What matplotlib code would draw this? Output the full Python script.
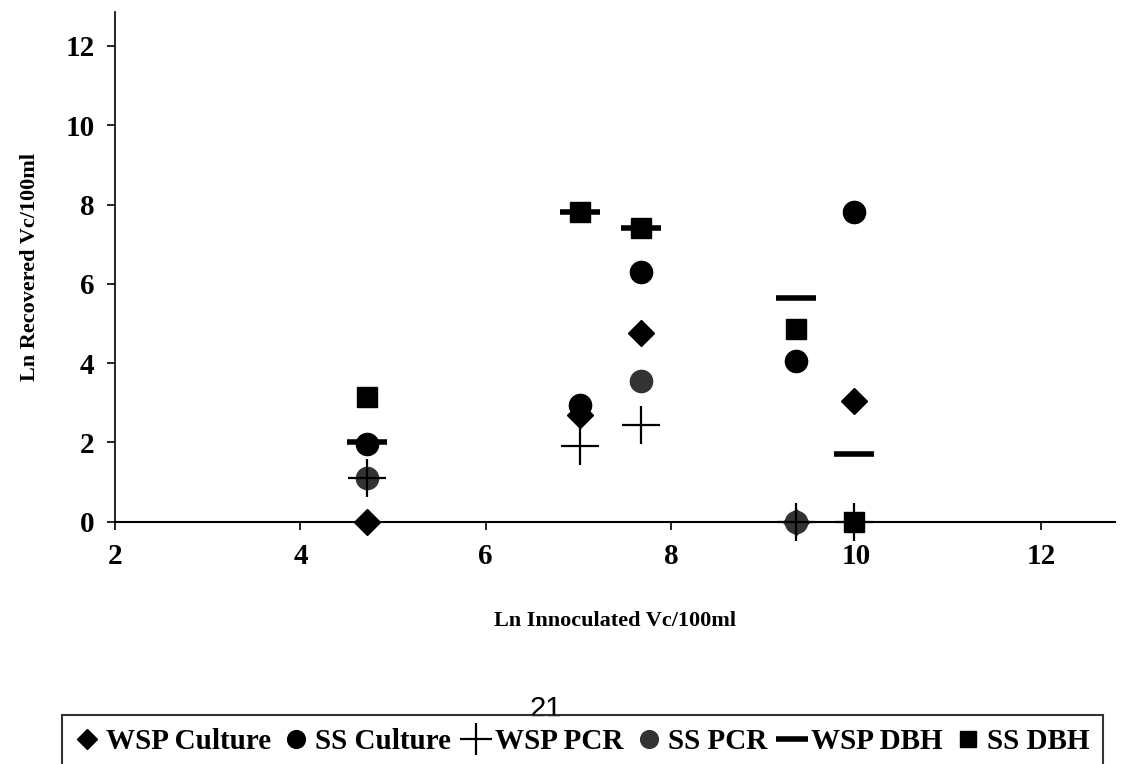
import matplotlib.pyplot as plt

plt.rcParams['font.family'] = ['Liberation Serif', 'DejaVu Serif']
plt.rcParams['font.weight'] = 'bold'

# inoculated (x) values
x_vals = [4.72, 7.02, 7.68, 9.35, 9.98]

# recovered (y) values for each series
wsp_culture = [0.0, 2.7, 4.75, 0.0, 3.05]
ss_culture = [1.95, 2.95, 6.3, 4.05, 7.8]
wsp_pcr = [1.1, 1.9, 2.45, 0.0, 0.0]
ss_pcr = [1.1, None, 3.55, 0.0, None]
wsp_dbh = [2.0, 7.8, 7.4, 5.65, 1.7]
ss_dbh = [3.15, 7.8, 7.4, 4.85, 0.0]


def pairs(ys):
    px = [x for x, y in zip(x_vals, ys) if y is not None]
    py = [y for y in ys if y is not None]
    return px, py


fig = plt.figure(figsize=(11.3, 7.64), dpi=100)
ax = fig.add_axes([0.102, 0.317, 0.885, 0.667])

h1, = ax.plot(*pairs(wsp_culture), 'D', color='black', markersize=13, linestyle='none', clip_on=False)
h2, = ax.plot(*pairs(ss_culture), 'o', color='black', markersize=16, linestyle='none', clip_on=False)
h4, = ax.plot(*pairs(ss_pcr), 'o', color='#333333', markersize=16, linestyle='none', clip_on=False)
h3, = ax.plot(*pairs(wsp_pcr), '+', color='black', markersize=28, markeredgewidth=1.6, linestyle='none', clip_on=False)
h5, = ax.plot(*pairs(wsp_dbh), '_', color='black', markersize=29, markeredgewidth=4, linestyle='none', clip_on=False)
h6, = ax.plot(*pairs(ss_dbh), 's', color='black', markersize=15, linestyle='none', clip_on=False)

ax.set_xlim(2, 12.8)
ax.set_ylim(0, 12.85)
ax.set_xticks([2, 4, 6, 8, 10, 12])
ax.set_yticks([0, 2, 4, 6, 8, 10, 12])
ax.spines['top'].set_visible(False)
ax.spines['right'].set_visible(False)
ax.spines['left'].set_linewidth(1.2)
ax.spines['bottom'].set_linewidth(1.5)
ax.tick_params(labelsize=21, length=6, width=1.2, pad=9)
for lab in ax.get_xticklabels() + ax.get_yticklabels():
    lab.set_fontweight('bold')

ax.set_xlabel('Ln Innoculated Vc/100ml', fontsize=16, fontweight='bold', labelpad=30)
ax.set_ylabel('Ln Recovered Vc/100ml', fontsize=16, fontweight='bold', labelpad=18)

fig.text(0.483, 0.061, '21', fontsize=21, family=['Liberation Sans', 'DejaVu Sans'],
         weight='normal', ha='center', va='baseline')

leg = fig.legend([h1, h2, h3, h4, h5, h6],
                 ['WSP Culture', 'SS Culture', 'WSP PCR', 'SS PCR', 'WSP DBH', 'SS DBH'],
                 loc='upper left', bbox_to_anchor=(0.055, 0.0, 0.921, 0.064), mode='expand',
                 ncol=6, frameon=True, fancybox=False, edgecolor='black', handlelength=0.8,
                 handletextpad=0.25, columnspacing=0.4, borderpad=0.45, markerscale=0.8,
                 borderaxespad=0, prop={'weight': 'bold', 'size': 21})
leg.get_frame().set_linewidth(1.5)

fig.savefig('out.png', dpi=100)
